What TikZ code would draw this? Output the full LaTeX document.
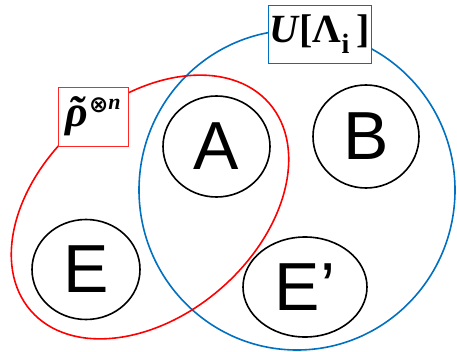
\documentclass[tikz,border=0pt]{standalone}
\usepackage{fontspec}
\setmainfont{Liberation Serif}
\newfontfamily\lsans{Liberation Sans}
\newfontfamily\dvs{DejaVu Sans}
\usetikzlibrary{shapes.geometric}
\definecolor{ublue}{RGB}{0,112,192}
\begin{document}
\begin{tikzpicture}[x=1pt,y=1pt,
  part/.style={draw=black, line width=1.6pt, ellipse, inner sep=0pt, font=\lsans\fontsize{68}{68}\selectfont},
  labelbox/.style={fill=white, line width=0.8pt, inner sep=0pt, font=\fontsize{40}{40}\selectfont\bfseries}]
\useasboundingbox (0,0) rectangle (457,351);
% big regions
\draw[ublue, line width=1.6pt] (297,161) ellipse [x radius=158, y radius=160];
\draw[red, line width=1.6pt, rotate around={41:(150,144)}] (150,144) ellipse [x radius=158, y radius=108];
% parts
\node[part, minimum width=107, minimum height=101] (A) at (216.5,204.5) {A};
\node[part, minimum width=108, minimum height=100] (E) at (86,81.5) {E};
\node[part, minimum width=106, minimum height=103] (B) at (366,214.5) {B};
\node[part, minimum width=124, minimum height=100] (Ep) at (305,64) {E’};
% labels
\node[labelbox, draw=ublue, minimum width=103, minimum height=58] (U) at (319.5,317)
  {\textit{U}[Λ\textsubscript{i}\,]};
\node[labelbox, draw=red!85, minimum width=70, minimum height=59] (R) at (93,234.5)
  {{\fontsize{44}{44}\selectfont\bfseries\itshape\makebox[0pt][l]{\hspace{0.06em}\char"02DC}ρ}\hspace{1pt}%
   \raisebox{14pt}{\fontsize{23}{23}\dvs\bfseries ⊗}%
   \raisebox{17pt}{\fontsize{22}{22}\selectfont\bfseries\itshape n}};
\end{tikzpicture}
\end{document}
